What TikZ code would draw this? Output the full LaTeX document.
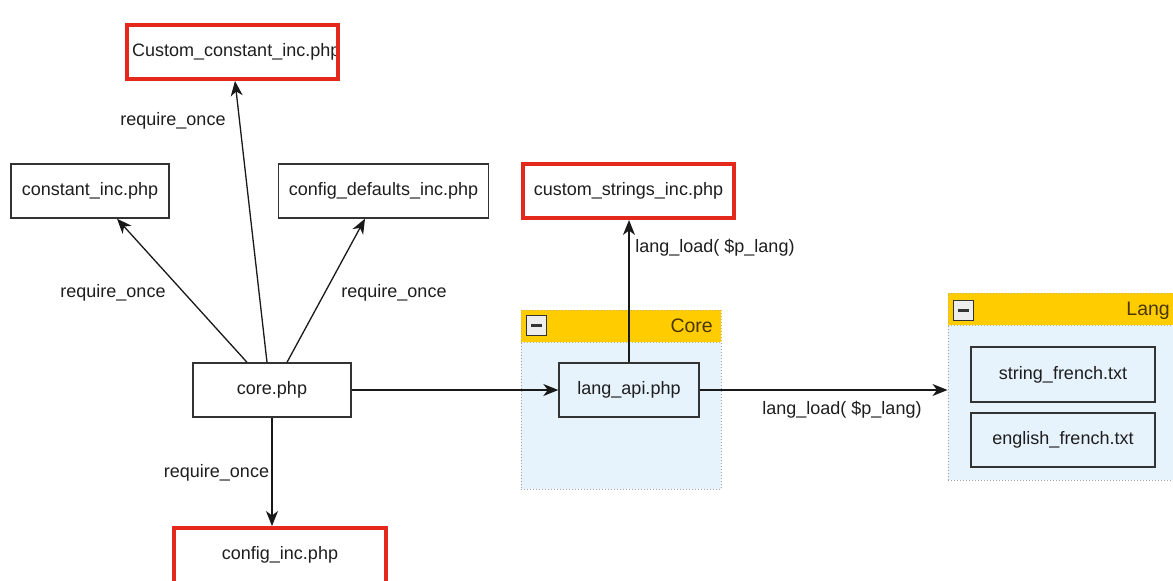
\documentclass[tikz,border=0pt]{standalone}
\usepackage{fontspec}
\setmainfont{Liberation Sans}
\usetikzlibrary{arrows.meta,calc}
\definecolor{boxline}{HTML}{333333}
\definecolor{redline}{HTML}{E5281C}
\definecolor{grpfill}{HTML}{E6F2FC}
\definecolor{grpline}{HTML}{A0A0A8}
\definecolor{hdrfill}{HTML}{FFCC00}
\definecolor{hdrtext}{HTML}{4A3600}
\definecolor{txt}{HTML}{1E1E1E}
\tikzset{
  lbl/.style={text=txt, font=\fontsize{18}{20}\selectfont, inner sep=0pt},
  filebox/.style={draw=boxline, line width=1.4pt, fill=white, text=txt,
    font=\fontsize{18}{20}\selectfont, inner sep=0pt},
  redbox/.style={draw=redline, line width=4pt, fill=white, text=txt,
    font=\fontsize{18}{20}\selectfont, inner sep=0pt},
  grpbox/.style={draw=grpline, line width=1pt, dotted, fill=grpfill, inner sep=0pt},
  grphdr/.style={draw=grpline!60!hdrfill, line width=1pt, dotted, fill=hdrfill, inner sep=0pt},
  minusbox/.style={draw=boxline, line width=1.2pt, fill=black!7, minimum width=20pt, minimum height=20pt, inner sep=0pt},
  hdrlbl/.style={text=hdrtext, font=\fontsize{19.5}{21}\selectfont, inner sep=0pt},
  arr/.style={draw=black!90, line width=1.3pt, -{Stealth[length=15pt,width=12pt,inset=4.5pt]}},
  plain/.style={draw=black!90, line width=1.3pt}
}
\begin{document}
\begin{tikzpicture}[x=1pt,y=-1pt]
\useasboundingbox (0,0) rectangle (1173,581);
\fill[white] (0,0) rectangle (1173,581);

% groups
\node[grpbox, minimum width=200pt, minimum height=179pt] (coregrp) at (621,399.5) {};
\node[grphdr, minimum width=200pt, minimum height=32pt] (corehdr) at (621,326) {};
\node[minusbox] (coremin) at (536.5,325.5) {};
\draw[line width=2.6pt, boxline] ([xshift=-5.5pt]coremin.center) -- ([xshift=5.5pt]coremin.center);
\node[hdrlbl, anchor=east] (corelbl) at (713,326) {Core};

\node[grpbox, minimum width=232pt, minimum height=187pt] (langgrp) at (1064,386.5) {};
\node[grphdr, minimum width=232pt, minimum height=32pt] (langhdr) at (1064,309) {};
\node[minusbox] (langmin) at (963.5,310.5) {};
\draw[line width=2.6pt, boxline] ([xshift=-5.5pt]langmin.center) -- ([xshift=5.5pt]langmin.center);
\node[hdrlbl, anchor=east] (langlbl) at (1170,311) {Lang};

% file nodes
\node[redbox, minimum width=211pt, minimum height=54pt] (cconst) at (232.5,52) {};
\node[lbl, anchor=west] (cctext) at (132,52) {Custom\_constant\_inc.php};
\draw[redline, line width=4pt] ([shift={(-2pt,-2pt)}]cconst.north east) rectangle ([shift={(2pt,2pt)}]cconst.south west);

\node[filebox, minimum width=158pt, minimum height=54pt] (const) at (90,191) {constant\_inc.php};
\node[filebox, minimum width=210pt, minimum height=54pt] (cdef) at (383.5,191) {config\_defaults\_inc.php};
\node[filebox, minimum width=158pt, minimum height=54pt] (core) at (272,390) {core.php};
\node[redbox, minimum width=212pt, minimum height=66pt] (cinc) at (280,561) {};
\node[lbl] (cinctext) at (280,555) {config\_inc.php};
\node[redbox, minimum width=211pt, minimum height=54pt] (cstr) at (628.5,191) {custom\_strings\_inc.php};
\node[filebox, fill=grpfill, minimum width=140pt, minimum height=54pt] (langapi) at (629,390) {lang\_api.php};
\node[filebox, fill=grpfill, minimum width=184pt, minimum height=55pt] (sfr) at (1063,374.5) {string\_french.txt};
\node[filebox, fill=grpfill, minimum width=184pt, minimum height=54pt] (efr) at (1063,440) {english\_french.txt};

% connectors
\draw[arr] ([xshift=-25pt]core.north) -- ([xshift=27pt]const.south);
\draw[arr] ([xshift=-5pt]core.north) -- ([xshift=2.5pt]cconst.south);
\draw[arr] ([xshift=15pt]core.north) -- ([xshift=-18.5pt]cdef.south);
\draw[arr] (core.south) -- (core.south |- cinc.north);
\draw[arr] (core.east) -- (langapi.west);
\draw[arr] (langapi.north) -- (langapi.north |- cstr.south);
\draw[arr] (langapi.east) -- (langapi.east -| langgrp.west);

% labels
\node[lbl] (l1) at (173,121) {require\_once};
\node[lbl] (l2) at (113,293) {require\_once};
\node[lbl] (l3) at (394,293) {require\_once};
\node[lbl] (l4) at (216.5,473) {require\_once};
\node[lbl] (l5) at (715,248) {lang\_load( \$p\_lang)};
\node[lbl] (l6) at (842,410) {lang\_load( \$p\_lang)};
\end{tikzpicture}
\end{document}
